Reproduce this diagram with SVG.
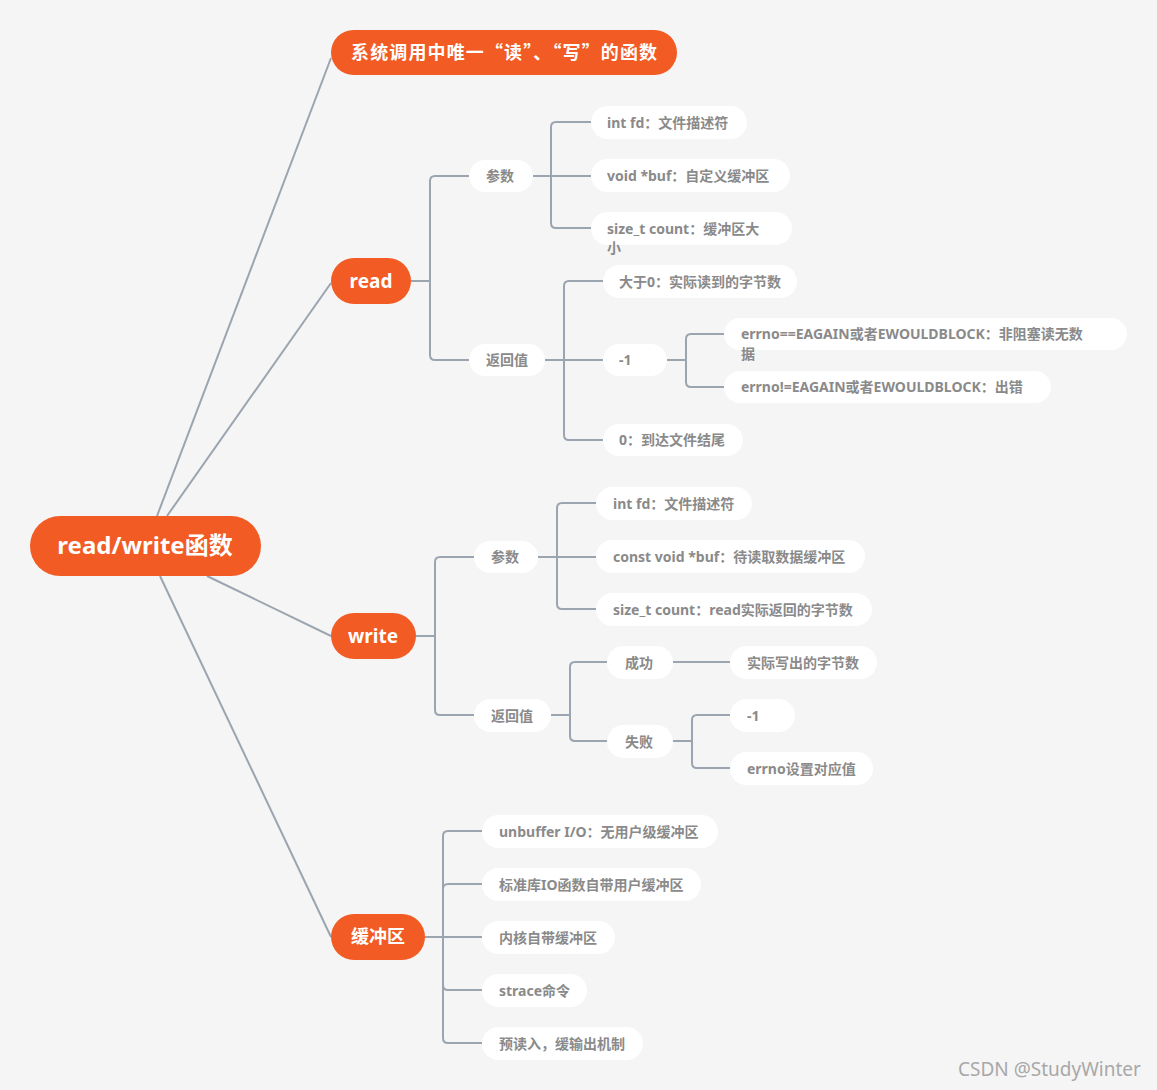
<svg xmlns="http://www.w3.org/2000/svg" width="1157" height="1090" viewBox="0 0 1157 1090">
<style>
.bg{fill:#f5f5f5}
.m{fill:#f25b23}
.p{fill:#ffffff}
.mt{font-family:"Microsoft YaHei","Noto Sans","Noto Sans CJK SC",sans-serif;font-weight:bold;fill:#ffffff;text-anchor:middle}
.cjk{font-family:"Noto Sans CJK SC",sans-serif}
.t{font-family:"Microsoft YaHei","Noto Sans","Noto Sans CJK SC",sans-serif;font-weight:bold;font-size:14px;fill:#8a8a8a}
.c{fill:none;stroke:#9ba5b0;stroke-width:2}
.wm{font-family:"Noto Sans","Noto Sans CJK SC",sans-serif;font-size:19px;fill:#a8a8a8}
</style>
<rect class="bg" x="0" y="0" width="1157" height="1090"/>
<g id="connectors">
<path class="c" d="M157 516 L331 58"/>
<path class="c" d="M167 516 L331 283"/>
<path class="c" d="M207 576 L331 636"/>
<path class="c" d="M160 576 L331 937"/>
<path class="c" d="M411 281 H430 V181 Q430 176 435 176 H469"/>
<path class="c" d="M411 281 H430 V355 Q430 360 435 360 H469"/>
<path class="c" d="M533 176 H551 V127 Q551 122 556 122 H591"/>
<path class="c" d="M533 176 H591"/>
<path class="c" d="M533 176 H551 V223 Q551 228 556 228 H591"/>
<path class="c" d="M545 360 H564 V286 Q564 281 569 281 H603"/>
<path class="c" d="M545 360 H603"/>
<path class="c" d="M545 360 H564 V435 Q564 440 569 440 H603"/>
<path class="c" d="M667 360 H686 V339 Q686 334 691 334 H724"/>
<path class="c" d="M667 360 H686 V382 Q686 387 691 387 H724"/>
<path class="c" d="M416 636 H435 V562 Q435 557 440 557 H474"/>
<path class="c" d="M416 636 H435 V710 Q435 715 440 715 H474"/>
<path class="c" d="M538 557 H557 V508 Q557 503 562 503 H596"/>
<path class="c" d="M538 557 H596"/>
<path class="c" d="M538 557 H557 V604 Q557 609 562 609 H596"/>
<path class="c" d="M551 715 H570 V667 Q570 662 575 662 H607"/>
<path class="c" d="M551 715 H570 V736 Q570 741 575 741 H607"/>
<path class="c" d="M673 662 H730"/>
<path class="c" d="M673 741 H692 V720 Q692 715 697 715 H730"/>
<path class="c" d="M673 741 H692 V763 Q692 768 697 768 H730"/>
<path class="c" d="M425 937 H443 V836 Q443 831 448 831 H482"/>
<path class="c" d="M425 937 H443 V889 Q443 884 448 884 H482"/>
<path class="c" d="M425 937 H482"/>
<path class="c" d="M425 937 H443 V985 Q443 990 448 990 H482"/>
<path class="c" d="M425 937 H443 V1038 Q443 1043 448 1043 H482"/>
</g>
<g id="root"><rect class="m" x="30" y="516" width="231" height="60" rx="30"/><text class="mt" x="145" y="554" font-size="24">read/write函数</text></g>
<g id="top"><rect class="m" x="331" y="30" width="346" height="45" rx="22.5"/><text class="mt cjk" x="504" y="59" font-size="18" textLength="306" lengthAdjust="spacing">系统调用中唯一“读”、“写”的函数</text></g>
<g id="read"><rect class="m" x="331" y="258" width="80" height="46" rx="23"/><text class="mt" x="371" y="288" font-size="19">read</text></g>
<g id="write"><rect class="m" x="331" y="613" width="85" height="46" rx="23"/><text class="mt" x="373" y="643" font-size="19">write</text></g>
<g id="buffer"><rect class="m" x="331" y="914" width="94" height="46" rx="23"/><text class="mt" x="378" y="943" font-size="18">缓冲区</text></g>
<g id="r-params"><rect class="p" x="469" y="160" width="64" height="32" rx="16"/><text class="t" x="486" y="181">参数</text></g>
<g id="r-fd"><rect class="p" x="591" y="106" width="156" height="33" rx="16.5"/><text class="t" x="607" y="127.5">int fd：文件描述符</text></g>
<g id="r-buf"><rect class="p" x="591" y="159" width="199" height="33" rx="16.5"/><text class="t" x="607" y="180.5">void *buf：自定义缓冲区</text></g>
<g id="r-count"><rect class="p" x="591" y="212" width="201" height="33" rx="16.5"/><text class="t" x="607" y="233.5">size_t count：缓冲区大</text><text class="t" x="607" y="253">小</text></g>
<g id="r-ret"><rect class="p" x="469" y="344" width="76" height="32" rx="16"/><text class="t" x="486" y="365">返回值</text></g>
<g id="r-gt0"><rect class="p" x="603" y="265" width="194" height="33" rx="16.5"/><text class="t" x="619" y="286.5">大于0：实际读到的字节数</text></g>
<g id="r-neg1"><rect class="p" x="603" y="344" width="64" height="32" rx="16"/><text class="t" x="619" y="365">-1</text></g>
<g id="r-zero"><rect class="p" x="603" y="424" width="140" height="32" rx="16"/><text class="t" x="619" y="445">0：到达文件结尾</text></g>
<g id="r-eagain"><rect class="p" x="724" y="318" width="403" height="32" rx="16"/><text class="t" x="741" y="339">errno==EAGAIN或者EWOULDBLOCK：非阻塞读无数</text><text class="t" x="741" y="359">据</text></g>
<g id="r-err"><rect class="p" x="724" y="371" width="327" height="32" rx="16"/><text class="t" x="741" y="392">errno!=EAGAIN或者EWOULDBLOCK：出错</text></g>
<g id="w-params"><rect class="p" x="474" y="541" width="64" height="32" rx="16"/><text class="t" x="491" y="562">参数</text></g>
<g id="w-fd"><rect class="p" x="596" y="487" width="156" height="33" rx="16.5"/><text class="t" x="613" y="508.5">int fd：文件描述符</text></g>
<g id="w-buf"><rect class="p" x="596" y="540" width="269" height="33" rx="16.5"/><text class="t" x="613" y="561.5">const void *buf：待读取数据缓冲区</text></g>
<g id="w-count"><rect class="p" x="596" y="593" width="276" height="33" rx="16.5"/><text class="t" x="613" y="614.5">size_t count：read实际返回的字节数</text></g>
<g id="w-ret"><rect class="p" x="474" y="699" width="77" height="33" rx="16.5"/><text class="t" x="491" y="720.5">返回值</text></g>
<g id="w-ok"><rect class="p" x="607" y="646" width="66" height="33" rx="16.5"/><text class="t" x="625" y="667.5">成功</text></g>
<g id="w-bytes"><rect class="p" x="730" y="646" width="147" height="33" rx="16.5"/><text class="t" x="747" y="667.5">实际写出的字节数</text></g>
<g id="w-fail"><rect class="p" x="607" y="725" width="66" height="33" rx="16.5"/><text class="t" x="625" y="746.5">失败</text></g>
<g id="w-neg1"><rect class="p" x="730" y="699" width="65" height="33" rx="16.5"/><text class="t" x="747" y="720.5">-1</text></g>
<g id="w-errno"><rect class="p" x="730" y="752" width="143" height="33" rx="16.5"/><text class="t" x="747" y="773.5">errno设置对应值</text></g>
<g id="b-unbuf"><rect class="p" x="482" y="815" width="236" height="33" rx="16.5"/><text class="t" x="499" y="836.5">unbuffer I/O：无用户级缓冲区</text></g>
<g id="b-std"><rect class="p" x="482" y="868" width="219" height="33" rx="16.5"/><text class="t" x="499" y="889.5">标准库IO函数自带用户缓冲区</text></g>
<g id="b-kernel"><rect class="p" x="482" y="921" width="133" height="33" rx="16.5"/><text class="t" x="499" y="942.5">内核自带缓冲区</text></g>
<g id="b-strace"><rect class="p" x="482" y="974" width="105" height="33" rx="16.5"/><text class="t" x="499" y="995.5">strace命令</text></g>
<g id="b-pre"><rect class="p" x="482" y="1027" width="161" height="33" rx="16.5"/><text class="t" x="499" y="1048.5">预读入，缓输出机制</text></g>
<text class="wm" x="958" y="1076">CSDN @StudyWinter</text>
</svg>
